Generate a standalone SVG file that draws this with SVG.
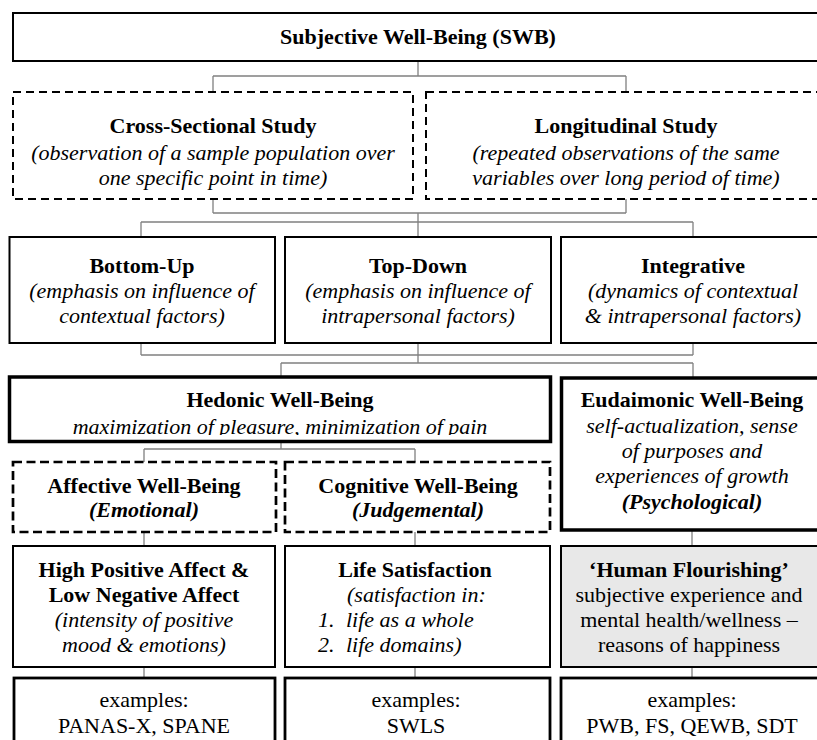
<svg xmlns="http://www.w3.org/2000/svg" width="817" height="740" viewBox="0 0 817 740">
<style>
text{font-family:"Liberation Serif","Times New Roman",serif;font-size:22px;fill:#000;text-anchor:middle}
.b{font-weight:bold}
.i{font-style:italic}
.bi{font-weight:bold;font-style:italic}
.l{text-anchor:start}
.box{fill:#fff;stroke:#000;stroke-width:2}
.dash{fill:#fff;stroke:#000;stroke-width:2;stroke-dasharray:8 5}
.dash2{fill:#fff;stroke:#000;stroke-width:2.7;stroke-dasharray:9 4.5}
.thick{fill:#fff;stroke:#000;stroke-width:3.5}
.ex{fill:#fff;stroke:#000;stroke-width:2.8}
.gray{fill:#e8e8e8;stroke:#000;stroke-width:2}
#connectors path{fill:none;stroke:#808080;stroke-width:1.3}
</style>
<defs>
<clipPath id="clipHed"><rect x="0" y="380" width="560" height="55"/></clipPath>
</defs>
<g id="connectors">
<path d="M418 61V76M213 76H626M213 76V92M626 76V92"/>
<path d="M213 199V213M626 199V213M213 213H626M418 213V237M141 222H693M141 222V237M693 222V237"/>
<path d="M141 343V355M418 343V363M693 343V355M141 355H693M281 363H693M281 363V377M693 363V377"/>
<path d="M281 442V449M144 449H415M144 449V462M415 449V462"/>
<path d="M144 532V546M415 532V546M692 530V546"/>
<path d="M144 667V678M415 667V678M692 667V678"/>
</g>
<g id="swb">
<rect class="box" x="13" y="13" width="820" height="48"/>
<text class="b" x="418" y="44">Subjective Well-Being (SWB)</text>
</g>
<g id="cross">
<rect class="dash" x="13" y="92" width="400" height="107"/>
<text class="b" x="213" y="133">Cross-Sectional Study</text>
<text class="i" x="213" y="160">(observation of a sample population over</text>
<text class="i" x="213" y="185">one specific point in time)</text>
</g>
<g id="longitudinal">
<rect class="dash" x="426" y="92" width="410" height="107"/>
<text class="b" x="626" y="133">Longitudinal Study</text>
<text class="i" x="626" y="160">(repeated observations of the same</text>
<text class="i" x="626" y="185">variables over long period of time)</text>
</g>
<g id="bottomup">
<rect class="box" x="9.5" y="237" width="265.5" height="106"/>
<text class="b" x="142" y="273">Bottom-Up</text>
<text class="i" x="142" y="298">(emphasis on influence of</text>
<text class="i" x="142" y="323">contextual factors)</text>
</g>
<g id="topdown">
<rect class="box" x="285" y="237" width="266" height="106"/>
<text class="b" x="418" y="273">Top-Down</text>
<text class="i" x="418" y="298">(emphasis on influence of</text>
<text class="i" x="418" y="323">intrapersonal factors)</text>
</g>
<g id="integrative">
<rect class="box" x="561" y="237" width="270" height="106"/>
<text class="b" x="693" y="273">Integrative</text>
<text class="i" x="693" y="298">(dynamics of contextual</text>
<text class="i" x="693" y="323">&amp; intrapersonal factors)</text>
</g>
<g id="hedonic">
<rect class="thick" x="9.5" y="377" width="541" height="64.5"/>
<text class="b" x="280" y="407">Hedonic Well-Being</text>
<text class="i" x="280" y="434" clip-path="url(#clipHed)">maximization of pleasure, minimization of pain</text>
</g>
<g id="eudaimonic">
<rect class="thick" x="561.5" y="378" width="275" height="152"/>
<text class="b" x="692" y="407">Eudaimonic Well-Being</text>
<text class="i" x="692" y="433">self-actualization, sense</text>
<text class="i" x="692" y="458">of purposes and</text>
<text class="i" x="692" y="483">experiences of growth</text>
<text class="bi" x="692" y="509">(Psychological)</text>
</g>
<g id="affective">
<rect class="dash2" x="13" y="462" width="263" height="70"/>
<text class="b" x="144" y="493">Affective Well-Being</text>
<text class="bi" x="144" y="517">(Emotional)</text>
</g>
<g id="cognitive">
<rect class="dash2" x="285" y="462" width="265" height="70"/>
<text class="b" x="418" y="493">Cognitive Well-Being</text>
<text class="bi" x="418" y="517">(Judgemental)</text>
</g>
<g id="affect">
<rect class="box" x="13" y="546" width="262" height="121"/>
<text class="b" x="144" y="577">High Positive Affect &amp;</text>
<text class="b" x="144" y="602">Low Negative Affect</text>
<text class="i" x="144" y="627">(intensity of positive</text>
<text class="i" x="144" y="652">mood &amp; emotions)</text>
</g>
<g id="lifesat">
<rect class="box" x="285" y="546" width="265" height="121"/>
<text class="b" x="415" y="577">Life Satisfaction</text>
<text class="i l" x="347" y="602">(satisfaction in:</text>
<text class="i l" x="318" y="627">1.</text>
<text class="i l" x="346" y="627">life as a whole</text>
<text class="i l" x="318" y="652">2.</text>
<text class="i l" x="346" y="652">life domains)</text>
</g>
<g id="flourishing">
<rect class="gray" x="561" y="546" width="275" height="121"/>
<text class="b" x="689" y="577">‘Human Flourishing’</text>
<text x="689" y="602">subjective experience and</text>
<text x="689" y="627">mental health/wellness –</text>
<text x="689" y="652">reasons of happiness</text>
</g>
<g id="ex1">
<rect class="ex" x="14" y="678" width="261" height="80"/>
<text x="144" y="707">examples:</text>
<text x="144" y="733">PANAS-X, SPANE</text>
</g>
<g id="ex2">
<rect class="ex" x="285" y="678" width="265" height="80"/>
<text x="416" y="707">examples:</text>
<text x="416" y="733">SWLS</text>
</g>
<g id="ex3">
<rect class="ex" x="561" y="678" width="275" height="80"/>
<text x="692" y="707">examples:</text>
<text x="692" y="733">PWB, FS, QEWB, SDT</text>
</g>
</svg>
